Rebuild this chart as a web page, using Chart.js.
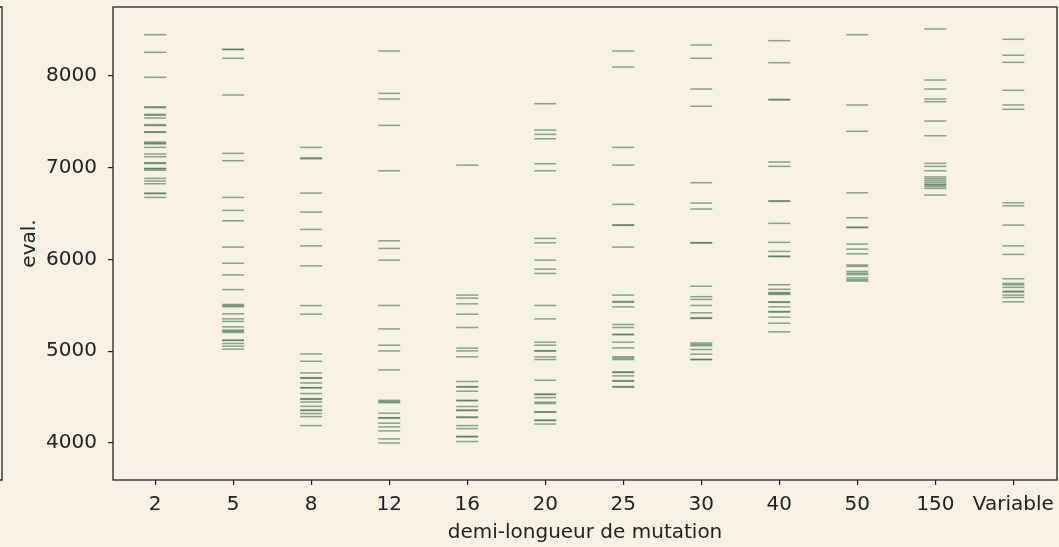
<!DOCTYPE html>
<html>
<head>
<meta charset="utf-8">
<script src="https://cdn.jsdelivr.net/npm/chart.js@4"></script>
<style>
	html, body { margin: 0; padding: 0; background: #f8f1e5; }
	#wrap { width: 1059px; height: 547px; }
</style>
</head>
<body>
<div id="wrap"><canvas id="myChart" width="1059" height="547"></canvas></div>
<script>
const categories = ['2', '5', '8', '12', '16', '20', '25', '30', '40', '50', '150', 'Variable'];
const yTicks = [4000, 5000, 6000, 7000, 8000];

// evaluations per mutation half-length
const evals2 = [8450, 8258, 7986, 7665, 7655, 7582, 7572, 7542, 7470, 7460, 7392, 7386, 7280, 7268, 7260, 7222, 7149, 7120, 7055, 7047, 6993, 6988, 6972, 6884, 6855, 6826, 6724, 6718, 6677];
const evals5 = [8291, 8288, 8193, 7793, 7157, 7077, 6677, 6535, 6422, 6135, 5959, 5832, 5672, 5510, 5498, 5486, 5408, 5353, 5325, 5266, 5230, 5218, 5205, 5121, 5118, 5085, 5055, 5023];
const evals8 = [7222, 7108, 7098, 6724, 6517, 6328, 6149, 5931, 5498, 5404, 4971, 4891, 4764, 4712, 4706, 4655, 4604, 4601, 4539, 4484, 4476, 4447, 4400, 4360, 4354, 4321, 4288, 4190];
const evals12 = [8273, 7811, 7749, 7462, 6967, 6204, 6121, 5993, 5499, 5244, 5066, 5004, 4797, 4465, 4452, 4440, 4325, 4276, 4272, 4216, 4176, 4132, 4045, 4001];
const evals16 = [7029, 5612, 5579, 5517, 5404, 5259, 5034, 5004, 4939, 4671, 4615, 4609, 4565, 4466, 4460, 4398, 4360, 4354, 4284, 4278, 4190, 4157, 4073, 4067, 4016];
const evals20 = [7698, 7411, 7364, 7316, 7044, 6967, 6230, 6182, 5993, 5895, 5848, 5499, 5353, 5099, 5066, 5006, 5002, 4939, 4910, 4684, 4534, 4528, 4495, 4445, 4430, 4340, 4336, 4251, 4245, 4207];
const evals25 = [8273, 8098, 7222, 7029, 6601, 6378, 6372, 6135, 5612, 5542, 5536, 5484, 5292, 5259, 5186, 5180, 5099, 5037, 4940, 4925, 4910, 4775, 4769, 4732, 4680, 4674, 4615, 4609];
const evals30 = [8338, 8193, 7858, 7670, 6837, 6615, 6550, 6184, 6180, 5709, 5595, 5565, 5499, 5419, 5364, 5358, 5090, 5075, 5060, 5019, 4968, 4912, 4908];
const evals40 = [8385, 8145, 7745, 7739, 7062, 7015, 6640, 6634, 6394, 6187, 6088, 6037, 6031, 5725, 5675, 5640, 5630, 5620, 5539, 5533, 5484, 5433, 5427, 5372, 5306, 5212];
const evals50 = [8450, 7684, 7397, 6727, 6455, 6352, 6348, 6168, 6113, 6062, 5940, 5925, 5870, 5850, 5835, 5800, 5780, 5765];
const evals150 = [8513, 7956, 7858, 7749, 7720, 7509, 7349, 7048, 7015, 6967, 6900, 6880, 6860, 6840, 6820, 6811, 6795, 6775, 6702];
const evalsVariable = [8400, 8226, 8149, 7844, 7684, 7637, 6618, 6586, 6375, 6149, 6056, 5790, 5740, 5725, 5696, 5655, 5645, 5612, 5586, 5539];

const series = [evals2, evals5, evals8, evals12, evals16, evals20, evals25, evals30, evals40, evals50, evals150, evalsVariable];

const points = [];
series.forEach((vals, i) => {
	vals.forEach(v => points.push({ x: i, y: v }));
});

const ink = '#222222';
const font = { family: 'DejaVu Sans', size: 20 };

// frame around the plot + stub of the neighbouring axes on the far left
const framePlugin = {
	id: 'frame',
	afterDraw(chart) {
		const { ctx, chartArea: a } = chart;
		ctx.save();
		ctx.strokeStyle = ink;
		ctx.lineWidth = 1.3;
		ctx.strokeRect(a.left, a.top, a.right - a.left, a.bottom - a.top);
		ctx.beginPath();
		ctx.moveTo(-2, a.top);
		ctx.lineTo(2, a.top);
		ctx.lineTo(2, a.bottom);
		ctx.lineTo(-2, a.bottom);
		ctx.stroke();
		ctx.restore();
	}
};

const ctx = document.getElementById('myChart').getContext('2d');

new Chart(ctx, {
	type: 'scatter',
	data: {
		datasets: [
			{
				label: 'eval.',
				data: points,
				pointStyle: 'line',
				pointRadius: 11,
				pointBorderWidth: 1.5,
				borderColor: 'rgba(42, 98, 58, 0.55)',
				backgroundColor: 'rgba(42, 98, 58, 0.55)',
			},
		],
	},
	options: {
		responsive: false,
		animation: false,
		events: [],
		layout: { autoPadding: false, padding: { top: 7, right: 2, left: 0, bottom: 0 } },
		plugins: {
			legend: { display: false },
			tooltip: { enabled: false },
		},
		scales: {
			x: {
				type: 'linear',
				min: -0.54,
				max: 11.56,
				afterBuildTicks: s => { s.ticks = categories.map((c, i) => ({ value: i })); },
				afterFit: s => { s.height = 67; s.paddingLeft = 0; s.paddingRight = 0; },
				grid: { drawOnChartArea: false, drawTicks: true, tickLength: 5, color: ink, lineWidth: 1.2 },
				border: { display: false },
				ticks: { color: ink, font: font, padding: 8, maxRotation: 0, autoSkip: false, callback: v => categories[v] },
				title: { display: true, text: 'demi-longueur de mutation', color: ink, font: font, padding: { top: 2, bottom: 2 } },
			},
			y: {
				min: 3597,
				max: 8752,
				afterBuildTicks: s => { s.ticks = yTicks.map(v => ({ value: v })); },
				afterFit: s => { s.width = 113; s.paddingTop = 0; s.paddingBottom = 0; },
				grid: { drawOnChartArea: false, drawTicks: true, tickLength: 5, color: ink, lineWidth: 1.2 },
				border: { display: false },
				ticks: { color: ink, font: font, padding: 11, callback: v => String(v) },
				title: { display: true, text: 'eval.', color: ink, font: font, padding: { top: 18, bottom: 0 } },
			},
		},
	},
	plugins: [framePlugin],
});
</script>
</body>
</html>
